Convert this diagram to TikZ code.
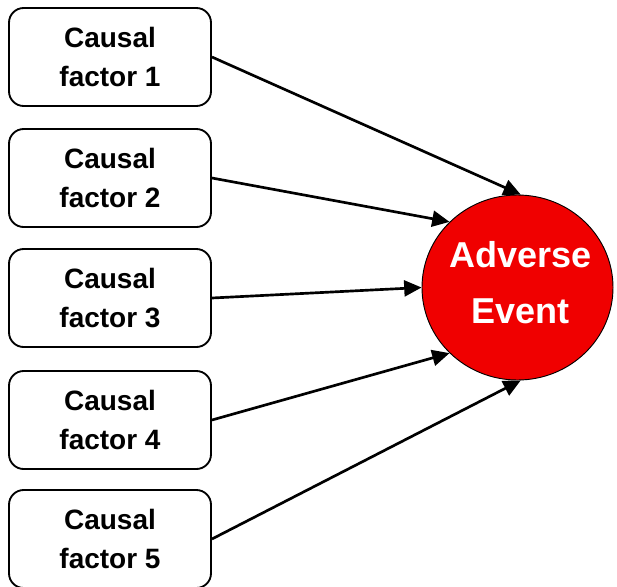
\documentclass[tikz,border=0pt]{standalone}
\usepackage{fontspec}
\setmainfont{Liberation Sans}
\usetikzlibrary{arrows.meta,shapes.geometric}
\definecolor{evred}{RGB}{240,0,0}
\begin{document}
\begin{tikzpicture}[x=0.75pt,y=-0.75pt,
  factorbox/.style={draw=black,line width=1.4pt,rounded corners=11pt,fill=white,
    minimum width=151.5pt,minimum height=73.5pt,inner sep=0pt,align=center,
    font=\fontsize{21pt}{29pt}\selectfont\bfseries},
  eventnode/.style={ellipse,draw=black,line width=0.7pt,fill=evred,
    minimum width=143.25pt,minimum height=138.75pt,inner sep=0pt},
  eventtext/.style={text=white,align=center,inner sep=0pt,yshift=4pt,xshift=2pt,
    font=\fontsize{27pt}{42pt}\selectfont\bfseries},
  link/.style={line width=2pt,-{Triangle[length=13pt,width=12pt]}}]
\useasboundingbox (0,0) rectangle (617,586);
\node[factorbox] (f1) at (110,57) {Causal\\factor 1};
\node[factorbox] (f2) at (110,178) {Causal\\factor 2};
\node[factorbox] (f3) at (110,298) {Causal\\factor 3};
\node[factorbox] (f4) at (110,420) {Causal\\factor 4};
\node[factorbox] (f5) at (110,539) {Causal\\factor 5};
\node[eventnode,label={[eventtext]center:Adverse\\Event}] (ae) at (517.5,287.5) {};
\draw[link] (f1.east) -- (ae.88);
\draw[link] (f2.east) -- (ae.136);
\draw[link] (f3.east) -- (ae.180);
\draw[link] (f4.east) -- (ae.224);
\draw[link] (f5.east) -- (ae.272);
\end{tikzpicture}
\end{document}
